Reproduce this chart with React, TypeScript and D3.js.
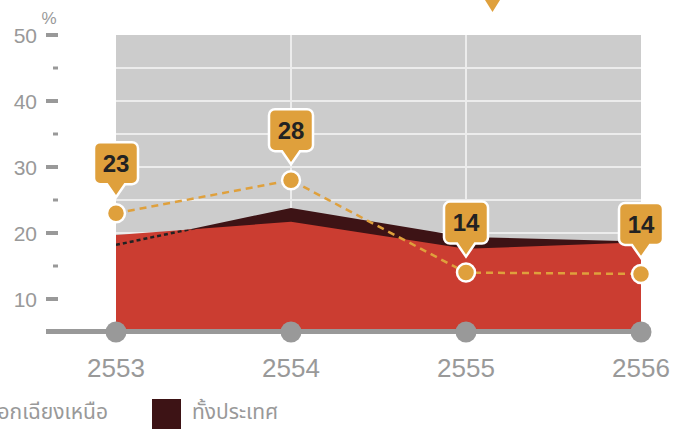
import React from 'react';
import * as d3 from 'd3';

const years = ['2553', '2554', '2555', '2556'];
const northeast = [19.7, 21.7, 17.6, 18.6];
const country = [18.2, 23.8, 19.4, 18.7];
const orangeSeries = [23, 28, 14, 13.8];
const majorTicks = [10, 20, 30, 40, 50];
const minorTicks = [15, 25, 35, 45];
const gridValues = [10, 15, 20, 25, 30, 35, 40, 45];
const legendLabels = ['ภาคตะวันออกเฉียงเหนือ', 'ทั้งประเทศ'];

const W = 685, H = 429;
const FONT = '"Liberation Sans", Arial, Helvetica, sans-serif';
const THAI = '"Noto Sans Thai", "Noto Sans", "DejaVu Sans", sans-serif';
const RED = '#cb3d31';
const DARK = '#3d1315';
const ORANGE = '#dfa03c';
const GREY = '#999999';

function calloutPath(cx: number, tipY: number) {
  const w = 44, h = 42, ph = 13, pw = 9, r = 6;
  const bottom = tipY - ph, top = bottom - h;
  const l = cx - w / 2, rt = cx + w / 2;
  return `M${l + r},${top}H${rt - r}A${r},${r} 0 0 1 ${rt},${top + r}V${bottom - r}A${r},${r} 0 0 1 ${rt - r},${bottom}H${cx + pw}L${cx},${tipY}L${cx - pw},${bottom}H${l + r}A${r},${r} 0 0 1 ${l},${bottom - r}V${top + r}A${r},${r} 0 0 1 ${l + r},${top}Z`;
}

export default function App() {
  const x = d3.scalePoint<string>().domain(years).range([116, 641]);
  const y = d3.scaleLinear().domain([5, 50]).range([332, 35]);
  const idx = years.map((_, i) => i);

  const area = (vals: number[]) =>
    d3.area<number>().x((i) => x(years[i])!).y0(y(5)).y1((i) => y(vals[i]))(idx)!;
  const line = (vals: number[]) =>
    d3.line<number>().x((i) => x(years[i])!).y((i) => y(vals[i]))(idx)!;
  const dottedSeg = d3.line<number>().x((i) => x(years[i])!).y((i) => y(country[i]))([0, 1])!;

  const x0 = x(years[0])!, x1 = x(years[years.length - 1])!;

  return (
    <svg width={W} height={H} style={{ position: 'absolute', left: 0, top: 0 }}>
      <defs>
        <clipPath id="redClip">
          <path d={area(northeast)} />
        </clipPath>
      </defs>
      <rect x={x0} y={y(50)} width={x1 - x0} height={y(5) - y(50)} fill="#cccccc" />
      {gridValues.map((v) => (
        <line key={v} x1={x0} x2={x1} y1={y(v)} y2={y(v)} stroke="#ececec" strokeWidth={2} />
      ))}
      {years.slice(1, -1).map((yr) => (
        <line key={yr} x1={x(yr)} x2={x(yr)} y1={y(50)} y2={y(5)} stroke="#ececec" strokeWidth={2} />
      ))}
      <path d={area(country)} fill={DARK} />
      <path d={area(northeast)} fill={RED} />
      <path d={dottedSeg} clipPath="url(#redClip)" fill="none" stroke="#222" strokeWidth={2.5} strokeDasharray="4 3" />
      {/* y axis */}
      {majorTicks.map((v) => (
        <g key={v}>
          <line x1={46} x2={58} y1={y(v)} y2={y(v)} stroke={GREY} strokeWidth={4} />
          <text x={37} y={y(v)} dy="0.36em" textAnchor="end" fill={GREY} fontFamily={FONT} fontSize={21}>{v}</text>
        </g>
      ))}
      {minorTicks.map((v) => (
        <line key={v} x1={53} x2={58} y1={y(v)} y2={y(v)} stroke={GREY} strokeWidth={3} />
      ))}
      <text x={49} y={24} textAnchor="middle" fill={GREY} fontFamily={FONT} fontSize={17}>%</text>
      {/* baseline */}
      <line x1={46} x2={x1} y1={331.5} y2={331.5} stroke={GREY} strokeWidth={5} />
      {years.map((yr) => (
        <g key={yr}>
          <circle cx={x(yr)} cy={332} r={10.5} fill={GREY} />
          <text x={x(yr)} y={377} textAnchor="middle" fill={GREY} fontFamily={FONT} fontSize={26}>{yr}</text>
        </g>
      ))}
      {/* orange series */}
      <path d={line(orangeSeries)} fill="none" stroke={ORANGE} strokeWidth={2.5} strokeDasharray="7 5" />
      {years.map((yr, i) => (
        <g key={yr}>
          <circle cx={x(yr)} cy={y(orangeSeries[i])} r={9} fill={ORANGE} stroke="#fff" strokeWidth={2.5} />
          <path d={calloutPath(x(yr)!, y(orangeSeries[i]) - 16)} fill={ORANGE} stroke="#fff" strokeWidth={2.5} />
          <text x={x(yr)} y={y(orangeSeries[i]) - 16 - 13 - 21} dy="0.36em" textAnchor="middle" fill="#222" fontFamily={FONT} fontWeight="bold" fontSize={24}>
            {Math.round(orangeSeries[i])}
          </text>
        </g>
      ))}
      {/* cut-off pointer at top */}
      <path d="M485,0L500,0L492.5,12Z" fill={ORANGE} />
      {/* legend */}
      <text x={108} y={419} textAnchor="end" fill={GREY} fontFamily={THAI} fontSize={21}>{legendLabels[0]}</text>
      <rect x={152} y={399} width={29} height={30} fill={DARK} />
      <text x={192} y={419} fill={GREY} fontFamily={THAI} fontSize={21}>{legendLabels[1]}</text>
    </svg>
  );
}
